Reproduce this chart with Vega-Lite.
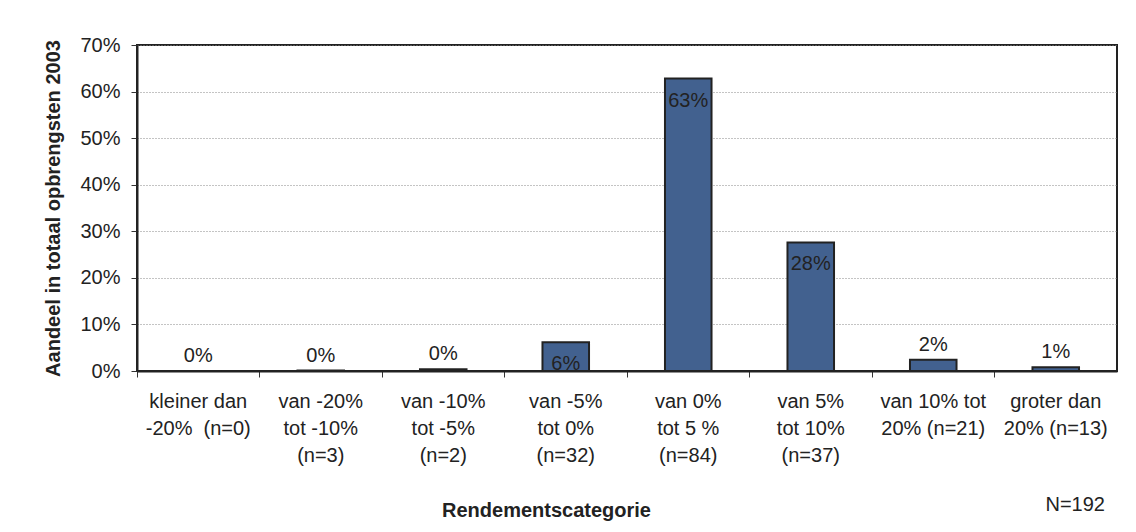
{
  "$schema": "https://vega.github.io/schema/vega-lite/v6.json",
  "width": 980,
  "height": 326,
  "autosize": "none",
  "padding": {"left": 137, "top": 45, "right": 19, "bottom": 161},
  "background": "white",
  "config": {
    "font": "Liberation Sans",
    "view": {"stroke": "#222222", "strokeWidth": 2},
    "axis": {"labelFont": "Liberation Sans", "titleFont": "Liberation Sans"}
  },
  "title": {
    "text": "N=192",
    "orient": "bottom",
    "anchor": "end",
    "frame": "group",
    "font": "Liberation Sans",
    "fontSize": 20,
    "fontWeight": "normal",
    "color": "#222222",
    "dx": -12,
    "dy": -29
  },
  "data": {
    "values": [
      {"categorie": "kleiner dan|-20%\u00a0 (n=0)", "aandeel": 0.0},
      {"categorie": "van -20%|tot -10%|(n=3)", "aandeel": 0.001},
      {"categorie": "van -10%|tot -5%|(n=2)", "aandeel": 0.004},
      {"categorie": "van -5%|tot 0%|(n=32)", "aandeel": 0.062},
      {"categorie": "van 0%|tot 5 %|(n=84)", "aandeel": 0.628},
      {"categorie": "van 5%|tot 10%|(n=37)", "aandeel": 0.276},
      {"categorie": "van 10% tot|20% (n=21)", "aandeel": 0.024},
      {"categorie": "groter dan|20% (n=13)", "aandeel": 0.008}
    ]
  },
  "encoding": {
    "x": {
      "field": "categorie",
      "type": "nominal",
      "sort": null,
      "scale": {"paddingInner": 0, "paddingOuter": 0},
      "axis": {
        "title": "Rendementscategorie",
        "titleFontSize": 20,
        "titleFontWeight": "bold",
        "titleColor": "#222222",
        "titleX": 409,
        "titleY": 139,
        "titleAlign": "center",
        "titleBaseline": "middle",
        "labelExpr": "split(datum.label, '|')",
        "labelAngle": 0,
        "labelFontSize": 20,
        "labelColor": "#222222",
        "labelLineHeight": 27,
        "labelPadding": 14,
        "labelBaseline": "top",
        "bandPosition": 0,
        "tickSize": 6,
        "tickColor": "#333333",
        "tickWidth": 1,
        "domainColor": "#222222",
        "domainWidth": 2,
        "grid": false
      }
    },
    "y": {
      "field": "aandeel",
      "type": "quantitative",
      "scale": {"domain": [0, 0.7], "nice": false},
      "axis": {
        "title": "Aandeel in totaal opbrengsten 2003",
        "titleFontSize": 20,
        "titleFontWeight": "bold",
        "titleColor": "#222222",
        "titleX": -84,
        "titleBaseline": "middle",
        "format": ".0%",
        "values": [0, 0.1, 0.2, 0.3, 0.4, 0.5, 0.6, 0.7],
        "labelFontSize": 20,
        "labelColor": "#222222",
        "labelPadding": 11,
        "tickSize": 6,
        "tickColor": "#333333",
        "tickWidth": 1,
        "domainColor": "#222222",
        "domainWidth": 2,
        "grid": true,
        "gridColor": "#888888",
        "gridDash": [1, 2],
        "gridWidth": 1
      }
    }
  },
  "layer": [
    {
      "mark": {"type": "bar", "width": {"band": 0.38}, "fill": "#42618F", "stroke": "#222222", "strokeWidth": 2}
    },
    {
      "transform": [{"filter": "datum.aandeel >= 0.05"}],
      "mark": {"type": "text", "baseline": "middle", "dy": 22, "fontSize": 20, "color": "#222222"},
      "encoding": {"text": {"field": "aandeel", "type": "quantitative", "format": ".0%"}}
    },
    {
      "transform": [{"filter": "datum.aandeel < 0.05"}],
      "mark": {"type": "text", "baseline": "bottom", "dy": -5, "fontSize": 20, "color": "#222222"},
      "encoding": {"text": {"field": "aandeel", "type": "quantitative", "format": ".0%"}}
    }
  ]
}
